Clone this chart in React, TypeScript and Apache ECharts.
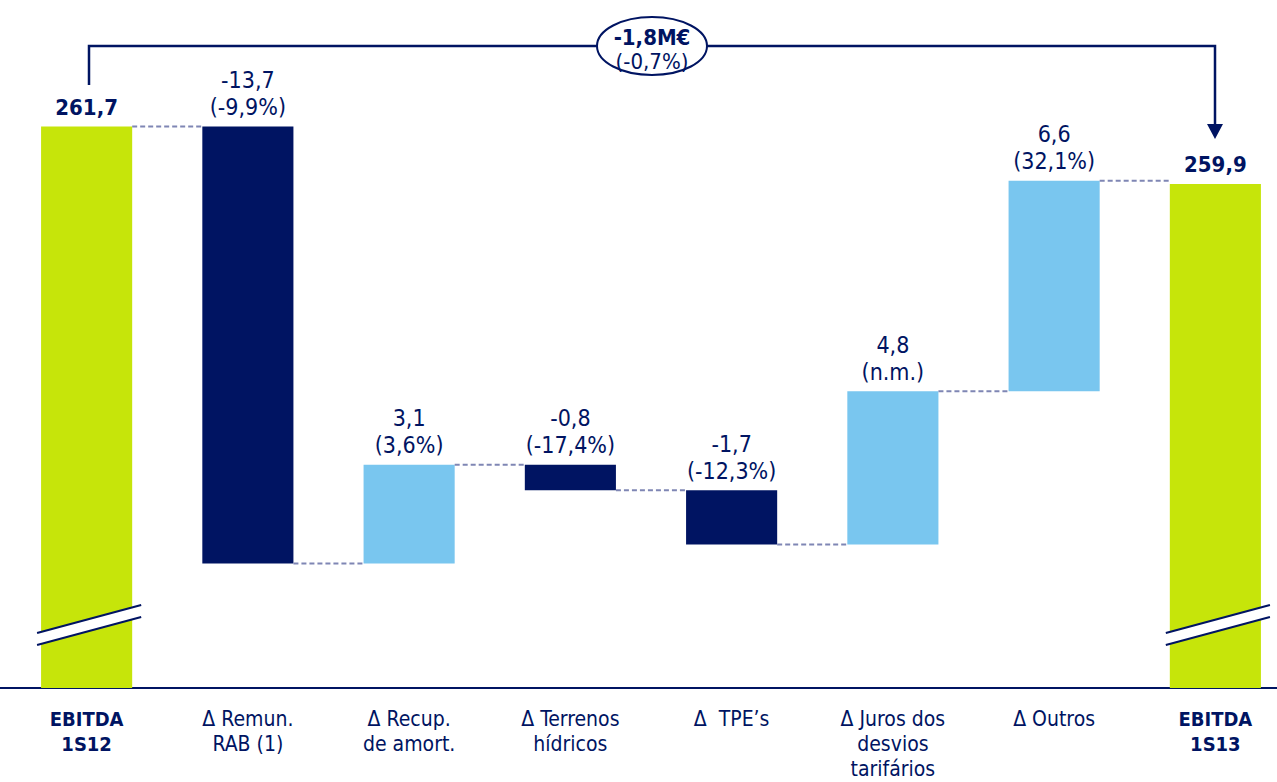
import React, { useEffect, useRef } from "react";
import * as echarts from "echarts";

const categories = [
  "EBITDA\n1S12",
  "Δ Remun.\nRAB (1)",
  "Δ Recup.\nde amort.",
  "Δ Terrenos\nhídricos",
  "Δ  TPE’s",
  "Δ Juros dos\ndesvios\ntarifários",
  "Δ Outros",
  "EBITDA\n1S13",
];
const startValue = 261.7;
const endValue = 259.9;
const deltas = [-13.7, 3.1, -0.8, -1.7, 4.8, 6.6];
const deltaLabels = ["-13,7", "3,1", "-0,8", "-1,7", "4,8", "6,6"];
const deltaPct = ["(-9,9%)", "(3,6%)", "(-17,4%)", "(-12,3%)", "(n.m.)", "(32,1%)"];
const totalLabels = ["261,7", "259,9"];
const axisMin = 244.1;
const axisMax = 264.1;
const diffLabel = "-1,8M€";
const diffPct = "(-0,7%)";

const NAVY = "#001462";
const LIME = "#c6e50a";
const LIGHT = "#79c6ef";
const DASH = "#7f86b4";
const FONT = "'DejaVu Sans Condensed', 'DejaVu Sans', sans-serif";

type Row = { low: number; high: number; end: number; kind: string; label: string; bold: boolean };

function buildRows(): Row[] {
  const rows: Row[] = [];
  let level = startValue;
  rows.push({ low: axisMin, high: startValue, end: startValue, kind: "total", label: totalLabels[0], bold: true });
  deltas.forEach((d, i) => {
    const s = level;
    const e = level + d;
    rows.push({
      low: Math.min(s, e),
      high: Math.max(s, e),
      end: e,
      kind: d < 0 ? "neg" : "pos",
      label: deltaLabels[i] + "\n" + deltaPct[i],
      bold: false,
    });
    level = e;
  });
  rows.push({ low: axisMin, high: endValue, end: endValue, kind: "total", label: totalLabels[1], bold: true });
  return rows;
}

export default function App() {
  const ref = useRef<HTMLDivElement>(null);
  useEffect(() => {
    if (!ref.current) return;
    const chart = echarts.init(ref.current, undefined, { renderer: "svg" });
    const rows = buildRows();
    const n = rows.length;
    const colorOf = (k: string) => (k === "total" ? LIME : k === "neg" ? NAVY : LIGHT);

    const option: any = {
      animation: false,
      backgroundColor: "#ffffff",
      grid: { left: 6, top: 50, width: 1290, height: 638 },
      xAxis: {
        type: "category",
        data: categories,
        boundaryGap: true,
        axisLine: { show: false },
        axisTick: { show: false },
        axisLabel: {
          interval: 0,
          margin: 18,
          formatter: (val: string, idx: number) => {
            const key = idx === 0 || idx === categories.length - 1 ? "b" : "n";
            return val
              .split("\n")
              .map((s) => `{${key}|${s}}`)
              .join("\n");
          },
          rich: {
            b: { fontFamily: FONT, fontSize: 20, fontWeight: "bold", color: NAVY, lineHeight: 25 },
            n: { fontFamily: FONT, fontSize: 21, color: NAVY, lineHeight: 25 },
          },
        },
      },
      yAxis: { type: "value", min: axisMin, max: axisMax, show: false },
      series: [
        {
          type: "custom",
          data: rows.map((r, i) => [i, r.low, r.high, r.end]),
          renderItem: (params: any, api: any) => {
            const i = api.value(0);
            const low = api.value(1);
            const high = api.value(2);
            const end = api.value(3);
            const row = rows[i];
            const top = api.coord([i, high]);
            const bottom = api.coord([i, low]);
            const cx = top[0];
            const w = api.size([1, 0])[0] * 0.565;
            const children: any[] = [
              {
                type: "rect",
                shape: { x: cx - w / 2, y: top[1], width: w, height: bottom[1] - top[1] },
                style: { fill: colorOf(row.kind) },
              },
            ];
            if (i < n - 1) {
              const pe = api.coord([i, end]);
              const nx = api.coord([i + 1, end])[0];
              children.push({
                type: "line",
                shape: { x1: cx + w / 2, y1: pe[1], x2: nx - w / 2, y2: pe[1] },
                style: { stroke: DASH, lineWidth: 2, lineDash: [5, 3] },
              });
            }
            children.push({
              type: "text",
              x: cx,
              y: top[1] - 6,
              style: {
                text: row.label,
                fill: NAVY,
                fontFamily: FONT,
                fontSize: row.bold ? 22 : 23,
                fontWeight: row.bold ? "bold" : "normal",
                lineHeight: 27,
                align: "center",
                verticalAlign: "bottom",
              },
            });
            if (row.kind === "total") {
              const mid = bottom[1] - 63;
              const xl = cx - w / 2 - 4;
              const xr = cx + w / 2 + 9;
              const dy = 14;
              children.push({
                type: "polygon",
                shape: {
                  points: [
                    [xl, mid + dy - 6],
                    [xr, mid - dy - 6],
                    [xr, mid - dy + 6],
                    [xl, mid + dy + 6],
                  ],
                },
                style: { fill: "#ffffff" },
              });
              children.push({
                type: "line",
                shape: { x1: xl, y1: mid + dy - 6, x2: xr, y2: mid - dy - 6 },
                style: { stroke: NAVY, lineWidth: 2 },
              });
              children.push({
                type: "line",
                shape: { x1: xl, y1: mid + dy + 6, x2: xr, y2: mid - dy + 6 },
                style: { stroke: NAVY, lineWidth: 2 },
              });
            }
            return { type: "group", children };
          },
        },
      ],
      graphic: [
        {
          type: "line",
          shape: { x1: 0, y1: 688, x2: 1277, y2: 688 },
          style: { stroke: NAVY, lineWidth: 2 },
        },
        {
          type: "polyline",
          shape: { points: [[89, 85], [89, 46], [600, 46]] },
          style: { stroke: NAVY, lineWidth: 2.5, fill: null },
        },
        {
          type: "polyline",
          shape: { points: [[700, 46], [1215, 46], [1215, 126]] },
          style: { stroke: NAVY, lineWidth: 2.5, fill: null },
        },
        {
          type: "polygon",
          shape: { points: [[1207, 124], [1223, 124], [1215, 139]] },
          style: { fill: NAVY },
        },
        {
          type: "ellipse",
          shape: { cx: 652, cy: 46, rx: 55, ry: 29 },
          style: { fill: "#ffffff", stroke: NAVY, lineWidth: 2 },
        },
        {
          type: "text",
          x: 652,
          y: 37,
          style: {
            text: diffLabel,
            fill: NAVY,
            fontFamily: FONT,
            fontSize: 22,
            fontWeight: "bold",
            align: "center",
            verticalAlign: "middle",
          },
        },
        {
          type: "text",
          x: 652,
          y: 61,
          style: {
            text: diffPct,
            fill: NAVY,
            fontFamily: FONT,
            fontSize: 22,
            align: "center",
            verticalAlign: "middle",
          },
        },
      ],
    };
    chart.setOption(option);
    return () => chart.dispose();
  }, []);
  return (
    <div
      style={{
        position: "absolute",
        left: 0,
        top: 0,
        width: 1277,
        height: 782,
        overflow: "hidden",
        background: "#fff",
      }}
    >
      <div ref={ref} style={{ width: 1300, height: 782 }} />
    </div>
  );
}
